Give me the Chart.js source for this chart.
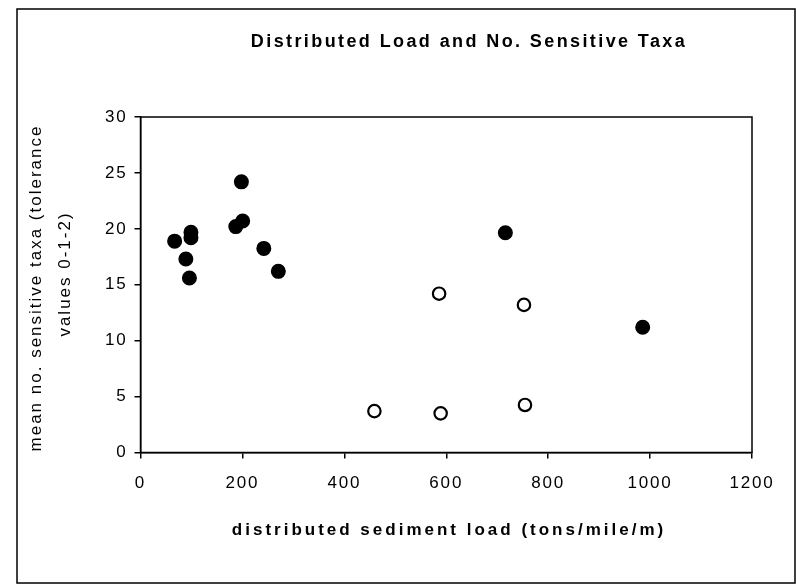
<!DOCTYPE html>
<html>
  <head>
    <script src="https://cdn.jsdelivr.net/npm/chart.js@4"></script>
    <style>
      html, body { margin: 0; padding: 0; background: #fff; }
    </style>
  </head>

  <body>
    <div style="width: 796px; height: 585px">
      <canvas id="canvas" width="796" height="585"></canvas>
    </div>
    <script>
      // filled circles
      const solidLoad = [67, 89, 96, 99, 99, 187, 198, 200.5, 242, 270.5, 716, 985.5];
      const solidTaxa = [18.9, 17.3, 15.6, 19.7, 19.2, 20.2, 24.2, 20.7, 18.25, 16.2, 19.65, 11.2];
      // open circles
      const openLoad = [459, 586, 589, 752.5, 754.5];
      const openTaxa = [3.7, 14.2, 3.5, 13.2, 4.25];

      const xTicks = [0, 200, 400, 600, 800, 1000, 1200];
      const yTicks = [0, 5, 10, 15, 20, 25, 30];

      const chartTitle = 'Distributed Load and No. Sensitive Taxa';
      const xTitle = 'distributed sediment load (tons/mile/m)';
      const yTitle = ['mean no. sensitive taxa (tolerance', 'values 0-1-2)'];

      const toPoints = (xs, ys) => xs.map((x, i) => ({ x, y: ys[i] }));

      // frame, plot box and the titles (with letter spacing, which chart.js can't do)
      const decor = {
        id: 'decor',
        beforeDraw(chart) {
          const ctx = chart.ctx;
          ctx.save();
          ctx.fillStyle = '#fff';
          ctx.fillRect(0, 0, chart.width, chart.height);
          ctx.restore();
          ctx.letterSpacing = '1.8px'; // tick labels
        },
        afterDraw(chart) {
          const ctx = chart.ctx;
          const a = chart.chartArea;
          ctx.save();
          ctx.letterSpacing = '0px';
          ctx.strokeStyle = '#000';
          ctx.lineWidth = 1.5;
          ctx.strokeRect(a.left, a.top, a.right - a.left, a.bottom - a.top);
          ctx.strokeRect(17, 9, 778, 574);

          ctx.fillStyle = '#000';
          ctx.textAlign = 'center';
          ctx.textBaseline = 'middle';

          ctx.font = 'bold 18px "Liberation Sans", Arial, sans-serif';
          ctx.letterSpacing = '2.4px';
          ctx.fillText(chartTitle, 469, 42);

          ctx.font = 'bold 17px "Liberation Sans", Arial, sans-serif';
          ctx.letterSpacing = '3px';
          ctx.fillText(xTitle, 449, 530);

          ctx.font = '17px "Liberation Sans", Arial, sans-serif';
          ctx.letterSpacing = '2px';
          ctx.translate(36, 288);
          ctx.rotate(-Math.PI / 2);
          ctx.fillText(yTitle[0], 0, 0);
          ctx.fillText(yTitle[1], 14, 29);
          ctx.restore();
        },
      };

      const axisStyle = {
        grid: { display: true, drawOnChartArea: false, drawTicks: true, tickLength: 6, color: '#000', lineWidth: 1.5 },
        border: { display: true, color: '#000', width: 1.5 },
      };
      const tickFont = { family: '"Liberation Sans", Arial', size: 17 };

      window.onload = () => {
        new Chart(document.getElementById('canvas').getContext('2d'), {
          type: 'scatter',
          data: {
            datasets: [
              {
                label: 'Series1',
                data: toPoints(solidLoad, solidTaxa),
                pointRadius: 6.8,
                pointBorderWidth: 1.4,
                backgroundColor: '#000',
                borderColor: '#000',
              },
              {
                label: 'Series2',
                data: toPoints(openLoad, openTaxa),
                pointRadius: 6.2,
                pointBorderWidth: 2.2,
                backgroundColor: '#fff',
                borderColor: '#000',
              },
            ],
          },
          options: {
            responsive: false,
            animation: false,
            events: [],
            layout: { padding: { left: 0, right: 44, top: 117, bottom: 0 } },
            plugins: {
              legend: { display: false },
              title: { display: false },
              tooltip: { enabled: false },
            },
            scales: {
              x: {
                type: 'linear',
                min: 0,
                max: 1200,
                afterBuildTicks: (s) => { s.ticks = xTicks.map((v) => ({ value: v })); },
                afterFit: (s) => { s.height = 132.5; },
                ticks: { color: '#000', padding: 15, font: tickFont, callback: (v) => String(v) },
                ...axisStyle,
              },
              y: {
                type: 'linear',
                min: 0,
                max: 30,
                afterBuildTicks: (s) => { s.ticks = yTicks.map((v) => ({ value: v })); },
                afterFit: (s) => { s.width = 140.5; },
                ticks: { color: '#000', padding: 7, font: tickFont, callback: (v) => String(v) },
                ...axisStyle,
              },
            },
          },
          plugins: [decor],
        });
      };
    </script>
  </body>
</html>
